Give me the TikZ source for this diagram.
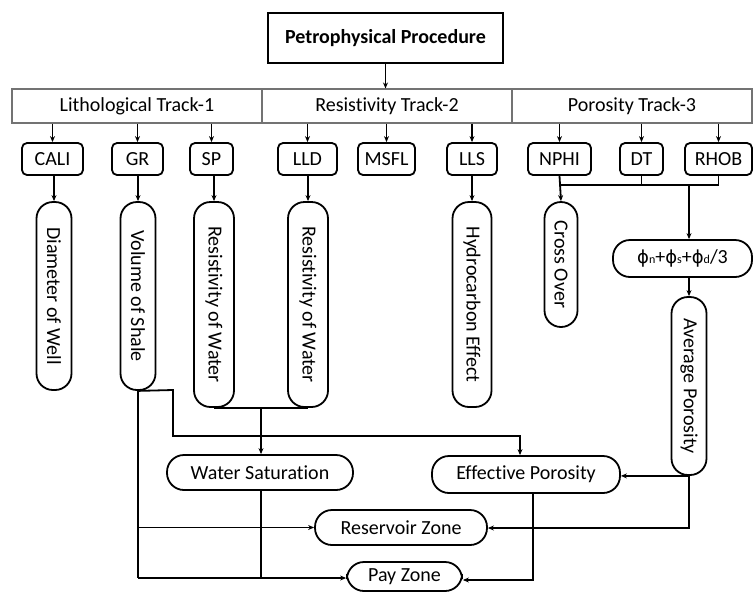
\documentclass[tikz,border=0pt]{standalone}
\usepackage{fontspec}
\setmainfont{Carlito}[Ligatures=NoCommon]
\newfontfamily\symfont{DejaVu Sans}
\usepackage{graphicx}
\usetikzlibrary{arrows.meta}
\newcommand{\ph}[1]{{\symfont\fontsize{18}{22}\selectfont ϕ}{\fontsize{12}{14}\selectfont #1}}
\begin{document}
\begin{tikzpicture}[x=1pt,y=-1pt,
  every node/.style={font=\fontsize{20}{24}\selectfont, text=black, inner sep=0pt},
  ttl/.style={draw, line width=1.8pt, font=\fontsize{20}{24}\selectfont\bfseries},
  trk/.style={draw=black!55, line width=1.1pt, minimum height=34pt},
  box/.style={draw, line width=1.8pt, rounded corners=5pt, minimum height=32pt},
  vov/.style={draw, line width=1.8pt, rounded corners=16.5pt},
  hov/.style={draw, line width=1.8pt, rounded corners=17pt},
  ln/.style={line width=1.8pt},
  arr/.style={line width=1.8pt, -{Stealth[length=6pt,width=5pt]}}]
\useasboundingbox (0,0) rectangle (754,592);
% title and tracks
\node[ttl, minimum width=235pt, minimum height=50pt] (title) at (385.5,38) {Petrophysical Procedure};
\node[trk, minimum width=250pt] (t1) at (137,106) {Lithological Track-1};
\node[trk, minimum width=250pt] (t2) at (387,106) {Resistivity Track-2};
\node[trk, minimum width=240pt] (t3) at (632,106) {Porosity Track-3};
\draw[arr] (title.south) -- (title.south |- t2.north);
% log boxes
\node[box, minimum width=61pt] (cali) at (52.5,159) {CALI};
\node[box, minimum width=51pt] (gr) at (137.5,159) {GR};
\node[box, minimum width=43pt] (sp) at (211.5,159) {SP};
\node[box, minimum width=59pt] (lld) at (307.5,159) {LLD};
\node[box, minimum width=57pt] (msfl) at (386.5,159) {MSFL};
\node[box, minimum width=50pt] (lls) at (472,159) {LLS};
\node[box, minimum width=63pt] (nphi) at (559.5,159) {NPHI};
\node[box, minimum width=43pt] (dt) at (641.5,159) {DT};
\node[box, minimum width=67pt] (rhob) at (718.5,159) {RHOB};
\foreach \b/\t in {cali/t1, gr/t1, sp/t1, lld/t2, msfl/t2, lls/t2, nphi/t3, dt/t3, rhob/t3}
  \draw[arr] (\b.north |- \t.south) -- (\b.north);
% vertical ovals
\node[vov, minimum width=35pt, minimum height=188pt] (dia) at (54,296) {\rotatebox{-90}{Diameter of Well}};
\node[vov, minimum width=35pt, minimum height=188pt] (vsh) at (138,296) {\rotatebox{-90}{Volume of Shale}};
\node[vov, minimum width=40pt, minimum height=205pt] (rw1) at (214,304.5) {\rotatebox{-90}{Resistivity of Water}};
\node[vov, minimum width=40pt, minimum height=205pt] (rw2) at (308,304.5) {\rotatebox{-90}{Resistivity of Water}};
\node[vov, minimum width=39pt, minimum height=205pt] (hc) at (472,304.5) {\rotatebox{-90}{Hydrocarbon Effect}};
\node[vov, minimum width=33pt, minimum height=125pt] (co) at (561,264.5) {\rotatebox{-90}{Cross Over}};
\node[hov, minimum width=139pt, minimum height=37pt] (phi) at (682.5,258.5) {\ph{n}+\ph{s}+\ph{d}/3};
\node[vov, minimum width=35pt, minimum height=178pt] (avg) at (689,386) {\rotatebox{-90}{Average Porosity}};
% lower ovals
\node[hov, minimum width=186pt, minimum height=35pt] (ws) at (260,472.5) {Water Saturation};
\node[hov, minimum width=188pt, minimum height=37pt] (ep) at (526,474.5) {Effective Porosity};
\node[hov, minimum width=172pt, minimum height=35pt] (rz) at (401,527.5) {Reservoir Zone};
\node[hov, minimum width=115pt, minimum height=29pt] (pz) at (404.5,576.5) {Pay Zone};
% log to interpretation
\draw[arr] (cali.south -| dia.north) -- (dia.north);
\draw[arr] (gr.south -| vsh.north) -- (vsh.north);
\draw[arr] (sp.south -| rw1.north) -- (rw1.north);
\draw[arr] (lld.south -| rw2.north) -- (rw2.north);
\draw[arr] (lls.south) -- (hc.north);
% porosity logs
\coordinate (jn) at (561,185);
\coordinate (jr) at (719,185);
\coordinate (jp) at (689,185);
\draw[ln] (dt.south) -- (dt.south |- jn);
\draw[ln] (rhob.south) -- (rhob.south |- jr) -- (jn);
\draw[arr] (nphi.south) -- (co.north);
\draw[arr] (jp) -- (jp |- phi.north);
\draw[arr] (phi.south -| avg.north) -- (avg.north);
% volume of shale branches
\coordinate (v1) at (173,390);
\coordinate (v2) at (173,436);
\coordinate (v3) at (520,436);
\draw[arr] (vsh.south) -- (v1) -- (v2) -- (v3) -- (v3 |- ep.north);
\coordinate (vb) at (138,578);
\draw[ln] (vsh.south) -- (vb);
\draw[arr] (vsh.south |- rz.west) -- (rz.west);
\draw[arr] (vb) -- (vb -| pz.west);
% resistivity of water to water saturation
\coordinate (wj) at (261,407);
\draw[ln] (rw1.south) -- (rw2.south);
\draw[arr] (wj) -- (wj |- ws.north);
\draw[ln] (ws.south -| wj) -- (wj |- vb);
% average porosity branches
\coordinate (a1) at (689,528);
\draw[arr] (avg.south) -- (avg.south -| ep.east);
\draw[arr] (avg.south) -- (a1) -- (a1 -| rz.east);
\coordinate (e1) at (533,580);
\draw[arr] (ep.south -| e1) -- (e1) -- (e1 -| pz.east);
\end{tikzpicture}
\end{document}
